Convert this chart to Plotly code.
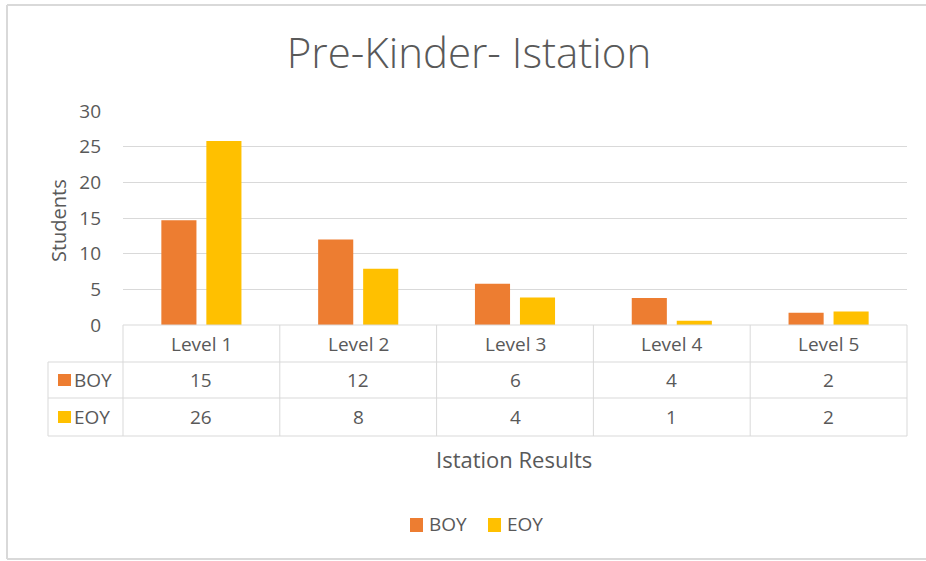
import plotly.graph_objects as go

categories = ["Level 1", "Level 2", "Level 3", "Level 4", "Level 5"]
boy = [14.7, 12.0, 5.8, 3.8, 1.7]
eoy = [25.8, 7.9, 3.85, 0.6, 1.9]
series_names = ["BOY", "EOY"]
colors = ["#ED7D31", "#FFC000"]
title_text = "Pre-Kinder- Istation"
y_title = "Students"
x_title = "Istation Results"

W, H = 926, 561
L, R, T, B = 123, 19, 111, 236
pw = W - L - R
ph = H - T - B
GRID = "#d9d9d9"
TXT = "#595959"
FONT = "Open Sans"


def px_x(x):
    return (x - L) / pw


def px_y(y):
    return (H - B - y) / ph


fig = go.Figure()
for name, vals, c in zip(series_names, [boy, eoy], colors):
    fig.add_trace(go.Bar(x=categories, y=vals, name=name, marker_color=c,
                         marker_line_width=0, showlegend=False))

shapes = []
ann = []
n = len(categories)
row_px = [325, 362, 398, 436]
row_tops = [px_y(v) for v in row_px]
left_col = px_x(48)
line = dict(color=GRID, width=1)
shapes.append(dict(type="line", xref="paper", yref="paper", x0=0, x1=1,
                   y0=row_tops[0], y1=row_tops[0], line=line))
for yy in row_tops[1:]:
    shapes.append(dict(type="line", xref="paper", yref="paper", x0=left_col, x1=1,
                       y0=yy, y1=yy, line=line))
for i in range(n + 1):
    xx = i / n
    shapes.append(dict(type="line", xref="paper", yref="paper", x0=xx, x1=xx,
                       y0=row_tops[0], y1=row_tops[3], line=line))
shapes.append(dict(type="line", xref="paper", yref="paper", x0=left_col, x1=left_col,
                   y0=row_tops[1], y1=row_tops[3], line=line))

tf = dict(family=FONT, size=19, color=TXT)
for i, cat in enumerate(categories):
    ann.append(dict(x=(i + 0.5) / n, y=px_y(344), xref="paper", yref="paper",
                    text=cat, showarrow=False, font=tf,
                    xanchor="center", yanchor="middle"))
for r, (name, vals, c) in enumerate(zip(series_names, [boy, eoy], colors)):
    ycp = (row_px[r + 1] + row_px[r + 2]) / 2
    for i, v in enumerate(vals):
        ann.append(dict(x=(i + 0.5) / n, y=px_y(ycp), xref="paper", yref="paper",
                        text=f"{v:.0f}", showarrow=False, font=tf,
                        xanchor="center", yanchor="middle"))
    shapes.append(dict(type="rect", xref="paper", yref="paper",
                       x0=px_x(58), x1=px_x(71), y0=px_y(ycp + 6), y1=px_y(ycp - 6),
                       fillcolor=c, line=dict(width=0)))
    ann.append(dict(x=px_x(72), y=px_y(ycp), xref="paper", yref="paper", text=name,
                    showarrow=False, xanchor="left", yanchor="middle", font=tf))

ann.append(dict(x=px_x(58), y=px_y(221), xref="paper", yref="paper", text=y_title,
                textangle=-90, showarrow=False, xanchor="center", yanchor="middle",
                font=dict(family=FONT, size=20, color=TXT)))
ann.append(dict(x=px_x(514), y=px_y(459), xref="paper", yref="paper", text=x_title,
                showarrow=False, xanchor="center", yanchor="middle",
                font=dict(family=FONT, size=22, color=TXT)))

leg_x = [410, 488]
for name, c, lx in zip(series_names, colors, leg_x):
    shapes.append(dict(type="rect", xref="paper", yref="paper",
                       x0=px_x(lx), x1=px_x(lx + 13), y0=px_y(532), y1=px_y(518),
                       fillcolor=c, line=dict(width=0)))
    ann.append(dict(x=px_x(lx + 17), y=px_y(524), xref="paper", yref="paper", text=name,
                    showarrow=False, xanchor="left", yanchor="middle", font=tf))

# outer chart frame (left, top, bottom edges visible)
frame = dict(color="#d9d9d9", width=2)
shapes.append(dict(type="line", xref="paper", yref="paper", x0=px_x(7), x1=px_x(7),
                   y0=px_y(5), y1=px_y(559), line=frame))
shapes.append(dict(type="line", xref="paper", yref="paper", x0=px_x(7), x1=px_x(926),
                   y0=px_y(5), y1=px_y(5), line=frame))
shapes.append(dict(type="line", xref="paper", yref="paper", x0=px_x(7), x1=px_x(926),
                   y0=px_y(559), y1=px_y(559), line=frame))

fig.update_layout(
    width=W, height=H,
    margin=dict(l=L, r=R, t=T, b=B, autoexpand=False),
    paper_bgcolor="white", plot_bgcolor="white",
    title=dict(text=title_text, x=469 / W, y=1 - 53 / H, xanchor="center",
               yanchor="middle", xref="container", yref="container",
               font=dict(family=FONT, size=42, color=TXT, weight=300)),
    barmode="group", bargap=0.426, bargroupgap=0.22,
    xaxis=dict(showticklabels=False, showgrid=False, showline=False, ticks=""),
    yaxis=dict(range=[0, 30], dtick=5, showgrid=True, gridcolor=GRID, gridwidth=1,
               zeroline=False, showline=False, ticks="", ticklabelstandoff=21,
               tickfont=dict(family=FONT, size=19, color=TXT)),
    showlegend=False,
    shapes=shapes, annotations=ann,
    font=dict(family=FONT, color=TXT),
)

fig.write_html("out.html", config={"displayModeBar": False},
               post_script="document.body.style.margin='0px';")
